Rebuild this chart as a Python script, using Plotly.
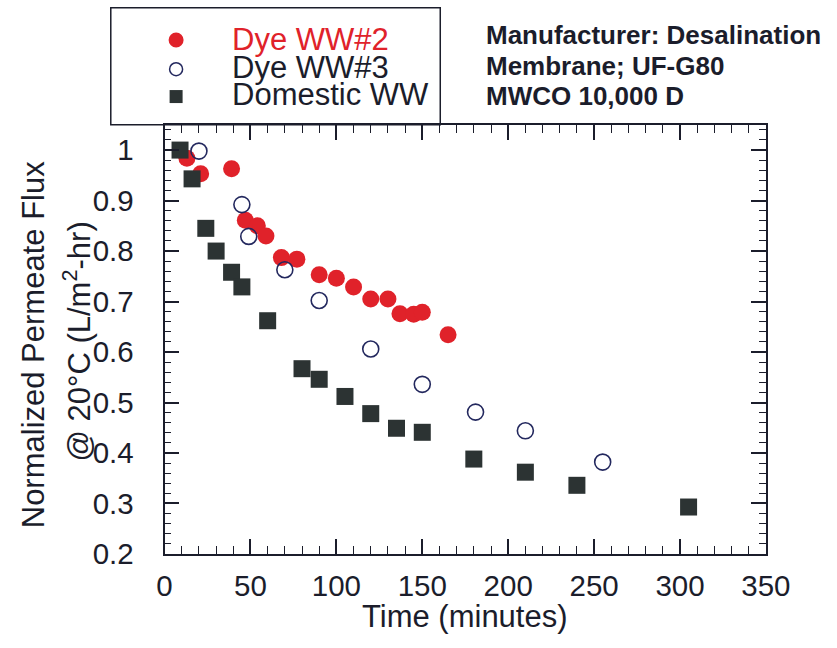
import plotly.graph_objects as go

W, H = 837, 648

# Normalized permeate flux vs. time for the three feed waters
dye2_time = [13, 21, 39, 47, 54, 59, 68, 77, 90, 100, 110, 120, 130, 137, 145, 150, 165]
dye2_flux = [0.984, 0.953, 0.963, 0.861, 0.850, 0.830, 0.787, 0.784, 0.753, 0.746,
             0.729, 0.705, 0.705, 0.676, 0.675, 0.679, 0.634]

dye3_time = [20, 45, 49, 70, 90, 120, 150, 181, 210, 255]
dye3_flux = [0.998, 0.892, 0.829, 0.763, 0.702, 0.606, 0.536, 0.481, 0.444, 0.382]

dom_time = [9, 16, 24, 30, 39, 45, 60, 80, 90, 105, 120, 135, 150, 180, 210, 240, 305]
dom_flux = [1.0, 0.943, 0.845, 0.800, 0.758, 0.729, 0.662, 0.567, 0.546, 0.512,
            0.478, 0.449, 0.441, 0.388, 0.362, 0.336, 0.293]

series_names = ["Dye WW#2", "Dye WW#3", "Domestic WW"]
info_lines = ["Manufacturer: Desalination", "Membrane; UF-G80", "MWCO 10,000 D"]

X_RANGE = [0, 350]
Y_RANGE = [0.2, 1.05]

FONT = "Liberation Sans, Arial, Helvetica, sans-serif"
INK = "#1b1d2b"
RED = "#e0222a"
SQUARE = "#2c3333"
NAVY = "#23285e"


def px(x):
    return x / W


def py(y):
    return 1 - y / H


X_DOMAIN = [px(163), px(789)]
Y_DOMAIN = [py(568), py(128)]

styles = [
    dict(symbol="circle", size=17, color=RED, line=dict(width=0)),
    dict(symbol="circle", size=16, color="rgba(255,255,255,0)", line=dict(width=1.6, color=NAVY)),
    dict(symbol="square", size=17, color=SQUARE, line=dict(width=0)),
]
data = [(dye2_time, dye2_flux), (dye3_time, dye3_flux), (dom_time, dom_flux)]

fig = go.Figure()
for name, (t, f), st in zip(series_names, data, styles):
    fig.add_trace(go.Scatter(x=t, y=f, mode="markers", name=name, marker=st,
                             showlegend=False, cliponaxis=False))
# empty traces that instantiate the overlay axes (labels; top/right ticks)
for xa, ya in (("x2", "y2"), ("x3", "y3")):
    fig.add_trace(go.Scatter(x=[], y=[], xaxis=xa, yaxis=ya, showlegend=False,
                             hoverinfo="skip"))

# inward major/minor tick marks
tick_style = dict(showgrid=False, zeroline=False, showticklabels=False,
                  ticks="inside", ticklen=15, tickwidth=1.5, tickcolor=INK)
x_minor = dict(ticks="inside", dtick=10, ticklen=8, tickwidth=1.2, tickcolor=INK)
y_minor = dict(ticks="inside", dtick=0.02, ticklen=7, tickwidth=1.2, tickcolor=INK)
# label axes: transparent outside ticks only keep the numbers clear of the frame
label_style = dict(showline=False, showgrid=False, zeroline=False,
                   ticks="outside", tickcolor="rgba(0,0,0,0)", tickwidth=1,
                   tickfont=dict(family=FONT, size=29.5, color=INK))

fig.update_layout(
    width=W, height=H,
    margin=dict(l=0, r=0, t=0, b=0),
    paper_bgcolor="white", plot_bgcolor="white",
    showlegend=False,
    # frame (bottom/left ticks, box outline)
    xaxis=dict(domain=X_DOMAIN, range=X_RANGE, tickmode="linear", tick0=0, dtick=50,
               showline=True, linecolor=INK, linewidth=1.5, mirror=True,
               minor=x_minor, **tick_style),
    yaxis=dict(domain=Y_DOMAIN, range=Y_RANGE, tickmode="linear", tick0=0.2, dtick=0.1,
               showline=True, linecolor=INK, linewidth=1.5, mirror=True,
               minor=y_minor, **tick_style),
    # tick labels
    xaxis2=dict(domain=X_DOMAIN, range=X_RANGE, overlaying="x", anchor="y2", side="bottom",
                tickmode="linear", tick0=0, dtick=50, ticklen=6, **label_style),
    yaxis2=dict(domain=Y_DOMAIN, range=Y_RANGE, overlaying="y", anchor="x2", side="left",
                tickmode="linear", tick0=0.2, dtick=0.1, ticklen=24, **label_style),
    # top/right ticks
    xaxis3=dict(domain=X_DOMAIN, range=X_RANGE, overlaying="x", anchor="y3", side="top",
                tickmode="linear", tick0=0, dtick=50, showline=False,
                minor=x_minor, **tick_style),
    yaxis3=dict(domain=Y_DOMAIN, range=Y_RANGE, overlaying="y", anchor="x3", side="right",
                tickmode="linear", tick0=0.2, dtick=0.1, showline=False,
                minor=y_minor, **tick_style),
)

annotations = []
shapes = []

# legend: glyph + label for each series
legend_glyphs = [("circle", 15, RED, RED, 0),
                 ("circle", 13, "white", NAVY, 1.5),
                 ("rect", 13, SQUARE, SQUARE, 0)]
legend_colors = [RED, INK, INK]
for name, col, (kind, size, fill, edge, lw), ry, ty in zip(
        series_names, legend_colors, legend_glyphs, [41, 71, 99], [40, 69, 97]):
    half = size / 2
    shapes.append(dict(
        type=kind, xref="paper", yref="paper",
        xsizemode="pixel", ysizemode="pixel", xanchor=px(175), yanchor=py(ry),
        x0=-half, x1=half, y0=-half, y1=half,
        fillcolor=fill, line=dict(color=edge, width=lw)))
    annotations.append(dict(
        x=px(231), y=py(ty), xref="paper", yref="paper", xanchor="left", yanchor="middle",
        text=name, showarrow=False, font=dict(family=FONT, size=31, color=col)))

# legend frame
shapes.append(dict(type="rect", xref="paper", yref="paper",
                   x0=px(107), x1=px(450), y0=py(128), y1=py(8),
                   line=dict(color=INK, width=1.5), fillcolor="rgba(0,0,0,0)"))

# membrane information
for line, ry in zip(info_lines, [36, 68, 98]):
    annotations.append(dict(
        x=px(496), y=py(ry), xref="paper", yref="paper", xanchor="left", yanchor="middle",
        text="<b>" + line + "</b>", showarrow=False,
        font=dict(family=FONT, size=26, color=INK)))

# axis titles
annotations.append(dict(
    x=px(476), y=py(632), xref="paper", yref="paper", xanchor="center", yanchor="middle",
    text="Time (minutes)", showarrow=False, font=dict(family=FONT, size=31, color=INK)))
annotations.append(dict(
    x=px(26), y=py(353), xref="paper", yref="paper", xanchor="center", yanchor="middle",
    text="Normalized Permeate Flux", textangle=-90, showarrow=False,
    font=dict(family=FONT, size=31, color=INK)))
annotations.append(dict(
    x=px(72), y=py(350), xref="paper", yref="paper", xanchor="center", yanchor="middle",
    text="@ 20°C (L/m<sup>2</sup>-hr)", textangle=-90, showarrow=False,
    font=dict(family=FONT, size=31, color=INK)))

fig.update_layout(annotations=annotations, shapes=shapes)

fig.write_html("out.html")
